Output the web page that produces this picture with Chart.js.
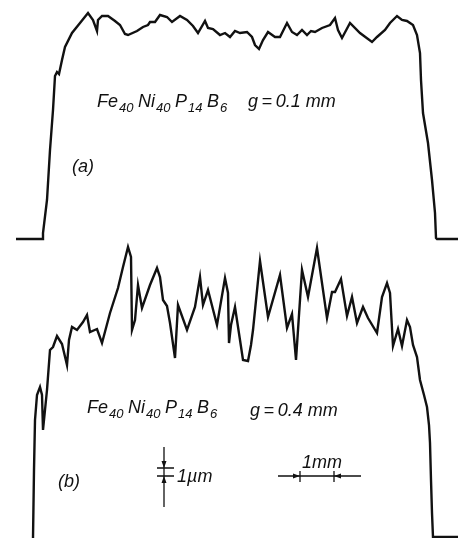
<!DOCTYPE html>
<html>
<head>
<meta charset="utf-8">
<title>Fe40Ni40P14B6 surface profiles</title>
<script src="https://cdn.jsdelivr.net/npm/chart.js@4.4.0/dist/chart.umd.min.js"></script>
<style>
  html, body { margin: 0; padding: 0; background: #fff; }
  #wrap { position: relative; width: 460px; height: 538px; }
</style>
</head>
<body>
<div id="wrap"><canvas id="profiles" width="460" height="538"></canvas></div>
<script>
// ═══════════════════════════════════════════════════════
// Stylus profiles of melt-spun ribbon, two wheel gaps
// x = position across ribbon, h = height above baseline (trace units)
// ═══════════════════════════════════════════════════════

// Trace (a) — g = 0.1 mm
var posA = [16, 43, 43, 47, 50, 53, 55, 57, 59, 62, 65, 72, 80, 88, 93, 97, 98, 102, 108, 115,
  120, 125, 128, 137, 143, 148, 150, 155, 160, 167, 172, 180, 187, 193, 198, 205, 208, 213, 220, 225,
  230, 235, 240, 247, 252, 255, 259, 263, 268, 275, 280, 287, 292, 297, 302, 307, 311, 315, 322, 330,
  335, 338, 342, 350, 360, 372, 377, 385, 390, 397, 402, 407, 413, 417, 420, 421, 423, 428, 432, 435,
  436, 437, 458];
var hA = [0, 0, 6, 39, 89, 129, 163, 167, 165, 179, 192, 206, 216, 226, 219, 208, 219, 223, 223, 218,
  214, 205, 204, 208, 212, 214, 217, 217, 224, 222, 217, 223, 219, 213, 206, 218, 211, 210, 204, 206,
  202, 208, 206, 207, 202, 194, 190, 199, 207, 202, 202, 216, 207, 204, 209, 204, 208, 207, 211, 214,
  221, 209, 201, 216, 206, 197, 202, 209, 216, 223, 219, 218, 214, 204, 186, 159, 126, 96, 59, 26,
  1, 0, 0];

// Trace (b) — g = 0.4 mm
var posB = [33, 34, 35, 37, 40, 42, 43, 45, 47, 50, 53, 57, 62, 67, 69, 72, 77, 83, 87, 90,
  97, 102, 110, 118, 123, 128, 131, 132, 135, 138, 142, 150, 157, 160, 163, 167, 170, 175, 178, 187,
  195, 200, 203, 208, 217, 225, 228, 229, 231, 235, 240, 243, 248, 251, 253, 260, 268, 280, 287, 292,
  296, 302, 308, 317, 327, 332, 335, 341, 347, 352, 357, 363, 368, 377, 382, 387, 390, 393, 398, 402,
  407, 410, 413, 417, 420, 424, 427, 429, 430, 431, 432, 433, 458];
var hB = [-1, 67, 117, 142, 150, 142, 107, 127, 147, 187, 190, 201, 193, 172, 197, 210, 207, 215, 222, 205,
  208, 194, 224, 249, 270, 290, 280, 207, 217, 252, 229, 252, 269, 260, 237, 231, 214, 179, 232, 207,
  230, 260, 232, 247, 212, 259, 244, 194, 212, 230, 197, 177, 176, 192, 207, 276, 220, 262, 209, 223,
  177, 267, 240, 289, 219, 245, 245, 258, 221, 240, 214, 230, 219, 204, 240, 254, 244, 191, 208, 191,
  217, 210, 192, 180, 157, 142, 130, 112, 94, 57, 24, 0, 0];

// scale bars: trace units per 1 mm (x) and per 1 µm (h)
var UNITS_PER_MM = 34;
var UNITS_PER_UM = 8;

var INK = '#111';
var FONT = 'italic 18px "Liberation Sans", Arial, sans-serif';
var FONT_SUB = 'italic 13px "Liberation Sans", Arial, sans-serif';

function _pts(xs, ys) {
  return xs.map(function(x, i) { return { x: x, y: ys[i] }; });
}

// ── formula with subscripts, e.g. Fe40 Ni40 P14 B6 ──
function _chem(ctx, x, y) {
  var parts = [['Fe', '40'], ['Ni', '40'], ['P', '14'], ['B', '6']];
  parts.forEach(function(p) {
    ctx.font = FONT;
    ctx.fillText(p[0], x, y);
    x += ctx.measureText(p[0]).width + 1;
    ctx.font = FONT_SUB;
    ctx.fillText(p[1], x, y + 5);
    x += ctx.measureText(p[1]).width + 4.5;
  });
}

function _arrow(ctx, tipX, tipY, dx, dy) {
  // small filled arrowhead, pointing along (dx, dy)
  var len = 7, half = 2.5;
  var bx = tipX - dx * len, by = tipY - dy * len;
  ctx.beginPath();
  ctx.moveTo(tipX, tipY);
  ctx.lineTo(bx - dy * half, by + dx * half);
  ctx.lineTo(bx + dy * half, by - dx * half);
  ctx.closePath();
  ctx.fill();
}

var labelsPlugin = {
  id: 'profileLabels',
  afterDatasetsDraw: function(chart) {
    var ctx = chart.ctx;
    var sx = chart.scales.x, ya = chart.scales.yA, yb = chart.scales.yB;
    ctx.save();
    ctx.fillStyle = INK;
    ctx.strokeStyle = INK;
    ctx.textBaseline = 'alphabetic';

    // (a)
    _chem(ctx, sx.getPixelForValue(97), ya.getPixelForValue(132));
    ctx.font = FONT;
    ctx.fillText('g\u2009=\u20090.1 mm', sx.getPixelForValue(248), ya.getPixelForValue(132));
    ctx.fillText('(a)', sx.getPixelForValue(72), ya.getPixelForValue(67));

    // (b)
    _chem(ctx, sx.getPixelForValue(87), yb.getPixelForValue(124));
    ctx.font = FONT;
    ctx.fillText('g\u2009=\u20090.4 mm', sx.getPixelForValue(250), yb.getPixelForValue(121));
    ctx.fillText('(b)', sx.getPixelForValue(58), yb.getPixelForValue(50));

    // 1 µm height bar
    ctx.lineWidth = 1.3;
    var bx = sx.getPixelForValue(164);
    var hTop = yb.getPixelForValue(69), hBot = yb.getPixelForValue(69 - UNITS_PER_UM);
    ctx.beginPath();
    ctx.moveTo(bx, yb.getPixelForValue(90)); ctx.lineTo(bx, yb.getPixelForValue(30));
    ctx.moveTo(bx - 7, hTop); ctx.lineTo(bx + 10, hTop);
    ctx.moveTo(bx - 7, hBot); ctx.lineTo(bx + 10, hBot);
    ctx.stroke();
    _arrow(ctx, bx, hTop, 0, 1);
    _arrow(ctx, bx, hBot, 0, -1);
    ctx.font = FONT;
    ctx.fillText('1µm', bx + 13, hBot + 6);

    // 1 mm length bar
    var ly = yb.getPixelForValue(61);
    var l0 = sx.getPixelForValue(300), l1 = sx.getPixelForValue(300 + UNITS_PER_MM);
    ctx.beginPath();
    ctx.moveTo(sx.getPixelForValue(278), ly); ctx.lineTo(sx.getPixelForValue(361), ly);
    ctx.moveTo(l0, ly - 5); ctx.lineTo(l0, ly + 6);
    ctx.moveTo(l1, ly - 5); ctx.lineTo(l1, ly + 6);
    ctx.stroke();
    _arrow(ctx, l0, ly, 1, 0);
    _arrow(ctx, l1, ly, -1, 0);
    ctx.fillText('1mm', l0 + 2, ly - 8);

    ctx.restore();
  }
};

new Chart(document.getElementById('profiles'), {
  type: 'line',
  data: {
    datasets: [{
      label: 'g = 0.1 mm',
      data: _pts(posA, hA),
      yAxisID: 'yA',
      borderColor: INK,
      borderWidth: 2.4,
      pointRadius: 0,
      tension: 0,
      fill: false
    }, {
      label: 'g = 0.4 mm',
      data: _pts(posB, hB),
      yAxisID: 'yB',
      borderColor: INK,
      borderWidth: 2.4,
      pointRadius: 0,
      tension: 0,
      fill: false
    }]
  },
  options: {
    responsive: false,
    animation: false,
    clip: false,
    layout: { padding: 0 },
    plugins: { legend: { display: false }, tooltip: { enabled: false } },
    scales: {
      x:  { type: 'linear', min: 0, max: 460, display: false },
      yA: { type: 'linear', min: -299, max: 239, display: false },
      yB: { type: 'linear', min: -1, max: 537, display: false }
    }
  },
  plugins: [labelsPlugin]
});
</script>
</body>
</html>
